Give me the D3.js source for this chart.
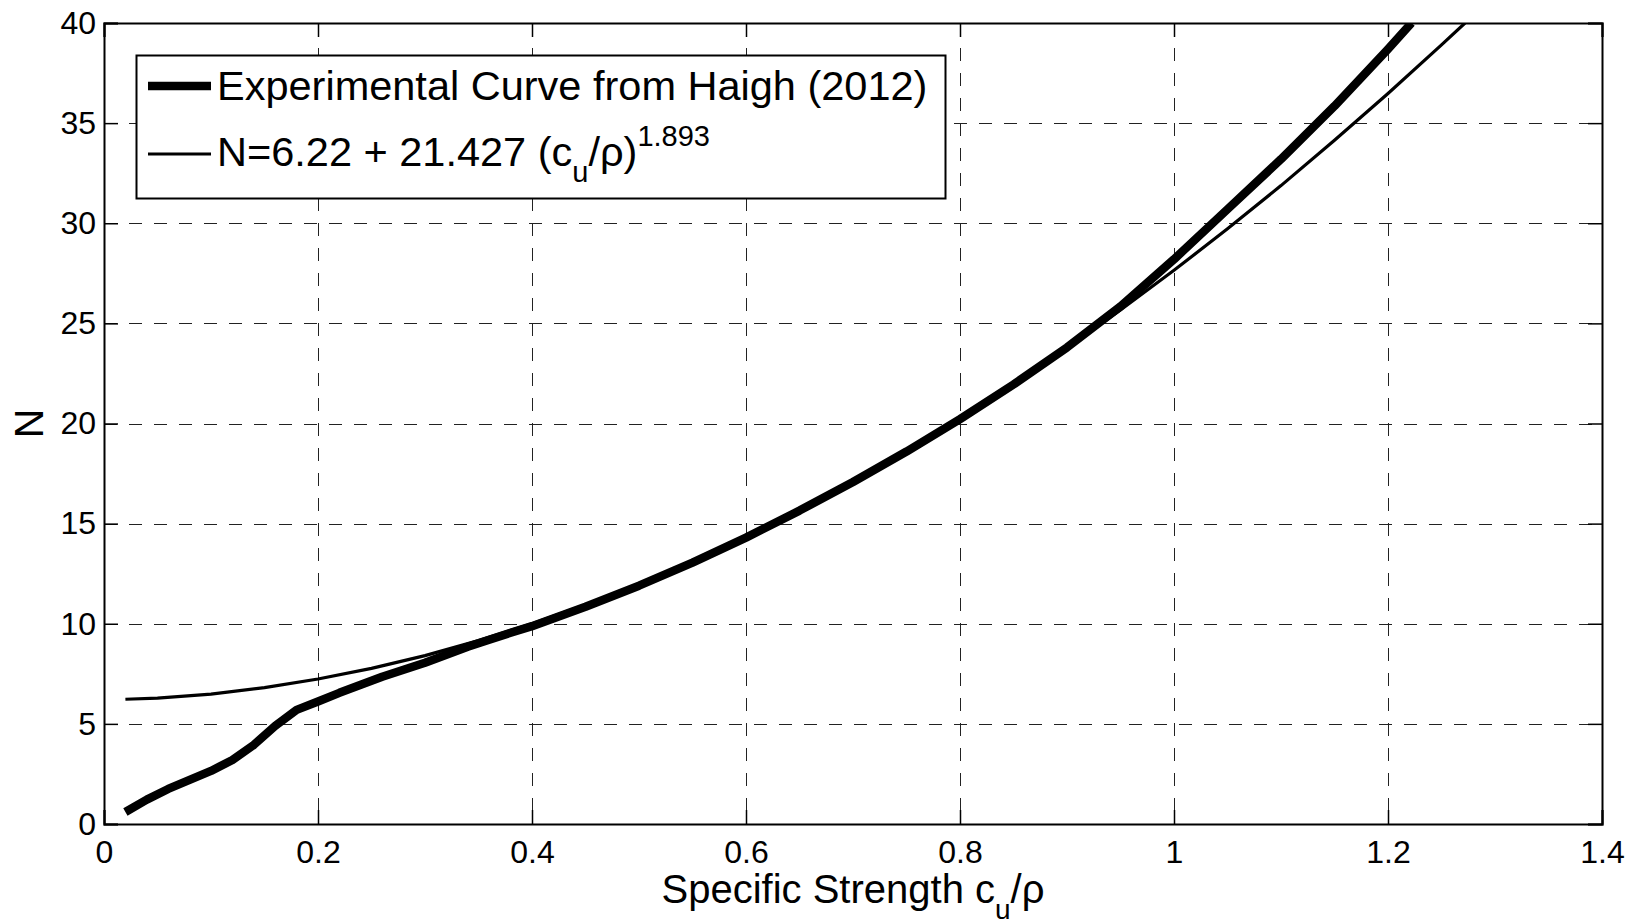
<!DOCTYPE html>
<html lang="en">
<head>
<meta charset="UTF-8">
<title>N vs specific strength</title>
<script src="https://d3js.org/d3.v7.min.js"></script>
<style>
  body { margin: 0; background: #fff; }
  text { font-family: "Liberation Sans", Arial, sans-serif; fill: #000; }
</style>
</head>
<body>
<div id="chart"></div>
<script>
    // experimental curve (Haigh 2012)
    let expX = [0.02,0.04,0.06,0.08,0.10,0.12,0.14,0.16,0.18,0.20,0.22,0.24,0.26,0.28,0.30,0.32,0.34,0.36,0.38,0.40,
                0.45,0.50,0.55,0.60,0.65,0.70,0.75,0.80,0.85,0.90,0.95,1.00,1.05,1.10,1.15,1.20,1.222],
        expN = [0.6,1.22,1.75,2.2,2.65,3.2,3.95,4.9,5.7,6.12,6.55,6.95,7.35,7.7,8.05,8.45,8.85,9.2,9.55,9.88,
                10.85,11.9,13.05,14.3,15.65,17.08,18.6,20.22,21.95,23.8,25.85,28.2,30.7,33.2,35.85,38.7,40];
    // fitted curve N=6.22 + 21.427 (cu/rho)^1.893
    let fitX = [0.02,0.05,0.10,0.15,0.20,0.25,0.30,0.35,0.40,0.45,0.50,0.55,0.60,0.65,0.70,0.75,0.80,0.85,0.90,0.95,
                1.00,1.05,1.10,1.15,1.20,1.25,1.272],
        fitN = [6.23,6.29,6.49,6.81,7.24,7.77,8.41,9.16,10.0,10.95,11.99,13.13,14.37,15.7,17.13,18.65,20.27,21.97,23.77,25.67,
                27.65,29.72,31.88,34.14,36.48,38.91,40];
    let xTicks = [0,0.2,0.4,0.6,0.8,1,1.2,1.4],
        yTicks = [0,5,10,15,20,25,30,35,40],
        legendLabels = ['Experimental Curve from Haigh (2012)','N=6.22 + 21.427 (c'];

    let W = 1628, H = 924,
        m = {l:104, t:23, r:26, b:100},
        w = W-m.l-m.r, h = H-m.t-m.b;

    let svg = d3.select('#chart').append('svg').attr('width',W).attr('height',H);
    let x = d3.scaleLinear().domain([0,1.4]).range([0,w]),
        y = d3.scaleLinear().domain([0,40]).range([h,0]);

    let g = svg.append('g').attr('transform','translate('+m.l+','+m.t+')');

    svg.append('defs').append('clipPath').attr('id','clip')
        .append('rect').attr('width',w).attr('height',h);

    //grille pointillée
    g.selectAll('.gx').data(xTicks.slice(1,-1)).enter().append('line')
        .attr('x1',d=>Math.round(x(d))+.5).attr('x2',d=>Math.round(x(d))+.5)
        .attr('y1',0).attr('y2',h)
        .style('stroke','#222').style('stroke-width',1).style('stroke-dasharray','13,12');
    g.selectAll('.gy').data(yTicks.slice(1,-1)).enter().append('line')
        .attr('y1',d=>Math.round(y(d))+.5).attr('y2',d=>Math.round(y(d))+.5)
        .attr('x1',0).attr('x2',w)
        .style('stroke','#222').style('stroke-width',1).style('stroke-dasharray','13,12');

    //axes (ticks inward, all four sides)
    let tk = 14;
    g.append('g').attr('transform','translate(0,'+h+')')
        .call(d3.axisBottom(x).tickValues(xTicks).tickSize(-tk).tickPadding(16).tickFormat(d3.format('~g')));
    g.append('g').call(d3.axisTop(x).tickValues(xTicks).tickSize(-tk).tickFormat(''));
    g.append('g').call(d3.axisLeft(y).tickValues(yTicks).tickSize(-tk).tickPadding(8));
    g.append('g').attr('transform','translate('+w+',0)')
        .call(d3.axisRight(y).tickValues(yTicks).tickSize(-tk).tickFormat(''));
    g.selectAll('.domain').style('stroke','#000').style('stroke-width',2);
    g.selectAll('.tick line').style('stroke','#000').style('stroke-width',1.5);
    g.selectAll('.tick text').style('font-size','32px').style('font-family','"Liberation Sans", Arial, sans-serif');

    //courbes
    let line = d3.line().x(d=>x(d[0])).y(d=>y(d[1]));
    let plot = g.append('g').attr('clip-path','url(#clip)');
    plot.append('path').datum(fitX.map((v,i)=>[v,fitN[i]]))
        .attr('d',line).style('fill','none').style('stroke','#000').style('stroke-width',3.2);
    plot.append('path').datum(expX.map((v,i)=>[v,expN[i]]))
        .attr('d',line).style('fill','none').style('stroke','#000').style('stroke-width',8.5)
        .style('stroke-linejoin','round');

    //légende
    let lg = svg.append('g');
    lg.append('rect').attr('x',136.5).attr('y',55.5).attr('width',809).attr('height',143)
        .style('fill','#fff').style('stroke','#000').style('stroke-width',2);
    lg.append('line').attr('x1',148).attr('x2',211).attr('y1',86).attr('y2',86)
        .style('stroke','#000').style('stroke-width',8.5);
    lg.append('line').attr('x1',148).attr('x2',211).attr('y1',154).attr('y2',154)
        .style('stroke','#000').style('stroke-width',3.2);
    lg.append('text').attr('x',217).attr('y',100).style('font-size','41.5px').text(legendLabels[0]);
    let t2 = lg.append('text').attr('x',217).attr('y',166).style('font-size','41.5px');
    t2.append('tspan').text(legendLabels[1]);
    t2.append('tspan').attr('dy',16).style('font-size','29px').text('u');
    t2.append('tspan').attr('dy',-16).text('/ρ)');
    t2.append('tspan').attr('dy',-20).style('font-size','29px').text('1.893');

    //titres des axes
    let xl = svg.append('text').attr('x',m.l+w/2).attr('y',903).attr('text-anchor','middle').style('font-size','40px');
    xl.append('tspan').text('Specific Strength c');
    xl.append('tspan').attr('dy',16).style('font-size','28px').text('u');
    xl.append('tspan').attr('dy',-16).text('/ρ');
    svg.append('text').attr('transform','translate(43,'+(m.t+h/2)+') rotate(-90)')
        .attr('text-anchor','middle').style('font-size','41px').text('N');
</script>
</body>
</html>
